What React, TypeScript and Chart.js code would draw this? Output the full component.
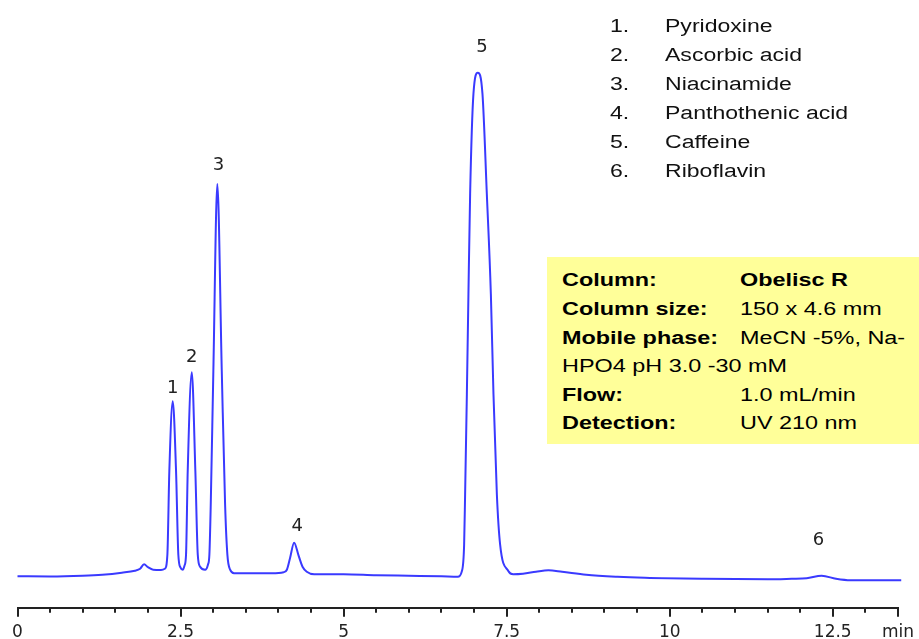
import React, { useEffect, useRef } from "react";
import { Chart, registerables } from "chart.js";

Chart.register(...registerables);

// Retention time (min) and detector signal (arbitrary units)
const retentionTimes = [
  0.0, 0.5, 1.0, 1.3, 1.6, 1.8, 1.88, 1.94, 2.0, 2.08, 2.2, 2.26,
  2.298, 2.328, 2.38, 2.431, 2.466, 2.5, 2.534, 2.56,
  2.584, 2.61, 2.672, 2.727, 2.764, 2.8, 2.876, 2.92,
  2.942, 2.963, 3.003, 3.064, 3.132, 3.183, 3.218, 3.26, 3.32,
  3.6, 3.9, 4.08, 4.13, 4.18, 4.241, 4.31, 4.37, 4.435, 4.55,
  5.0, 5.5, 6.0, 6.5, 6.75,
  6.813, 6.848, 6.863, 6.89, 6.914, 6.94, 6.991, 7.058, 7.129, 7.196, 7.258, 7.298, 7.35, 7.4, 7.528,
  7.6, 7.75, 7.95, 8.14, 8.35, 8.72, 9.2, 9.62, 10.52, 11.5, 11.87, 12.1, 12.33, 12.55, 12.77, 13.2, 13.55,
];
const signal = [
  31.5, 31.3, 32.0, 33.0, 35.0, 37.0, 39.0, 43.5, 40.5, 38.0, 37.8, 39.0,
  53, 136.5, 206, 136.5, 53, 40, 38, 42,
  53, 136.5, 235, 136.5, 53, 41, 38, 43,
  53, 103, 236.5, 423, 236.5, 103, 53, 38, 34.5,
  34.5, 34.5, 35.5, 38, 50, 65, 52, 41, 36, 33.5,
  33.5, 32.5, 32, 31.5, 31,
  36.5, 63, 113, 213, 313, 413, 513, 534, 513, 413, 313, 213, 113, 63, 36.5,
  33.5, 34, 36, 37.5, 36, 33, 31, 30, 29, 28.5, 29, 29.5, 32, 29, 27.5, 27.5, 27.5,
];

// Peak numbers and where they are printed
const peakLabels = ["1", "2", "3", "4", "5", "6"];
const peakLabelTimes = [2.38, 2.672, 3.08, 4.29, 7.12, 12.28];
const peakLabelSignals = [220.5, 251.5, 443, 83, 561.5, 69];

// Compound list
const compoundNumbers = ["1.", "2.", "3.", "4.", "5.", "6."];
const compounds = ["Pyridoxine", "Ascorbic acid", "Niacinamide", "Panthothenic acid", "Caffeine", "Riboflavin"];

// Conditions box
const conditionKeys = ["Column:", "Column size:", "Mobile phase:", "", "Flow:", "Detection:"];
const conditionValues = ["Obelisc R", "150 x 4.6 mm", "MeCN -5%, Na-", "HPO4 pH 3.0 -30 mM", "1.0 mL/min", "UV 210 nm"];

// Axis
const majorTickValues = [0, 2.5, 5, 7.5, 10, 12.5];
const axisUnit = "min";
const xMin = 0;
const xMax = 13.5;

const TEXT_FONT = '"Liberation Sans", Arial, sans-serif';
const CANVAS_W = 924;

export default function App() {
  const canvasRef = useRef<HTMLCanvasElement | null>(null);

  useEffect(() => {
    const canvas = canvasRef.current;
    if (!canvas) return;

    const peakLabelPlugin = {
      id: "peakLabels",
      afterDatasetsDraw(chart: any) {
        const { ctx, scales } = chart;
        ctx.save();
        ctx.font = '18px "DejaVu Sans", sans-serif';
        ctx.fillStyle = "#222";
        ctx.textAlign = "center";
        ctx.textBaseline = "alphabetic";
        peakLabels.forEach((lab, i) => {
          const x = scales.x.getPixelForValue(peakLabelTimes[i]);
          const y = scales.y.getPixelForValue(peakLabelSignals[i]);
          ctx.fillText(lab, x, y + 6.5);
        });
        ctx.restore();
      },
    };

    const majorTickPlugin = {
      id: "majorTicks",
      afterDraw(chart: any) {
        const { ctx, scales, chartArea } = chart;
        ctx.save();
        ctx.strokeStyle = "#222";
        ctx.lineWidth = 2;
        const extra = [...majorTickValues, xMax];
        extra.forEach((v) => {
          const x = Math.round(scales.x.getPixelForValue(v));
          ctx.beginPath();
          ctx.moveTo(x, chartArea.bottom);
          ctx.lineTo(x, chartArea.bottom + 9);
          ctx.stroke();
        });
        ctx.restore();
      },
    };

    const chart = new Chart(canvas, {
      type: "line",
      data: {
        datasets: [
          {
            data: retentionTimes.map((t, i) => ({ x: t, y: signal[i] })),
            borderColor: "#3a3aff",
            borderWidth: 2,
            pointRadius: 0,
            fill: false,
            cubicInterpolationMode: "monotone",
            clip: false as any,
          },
        ],
      },
      options: {
        animation: false,
        responsive: false,
        maintainAspectRatio: false,
        layout: { padding: { left: 17.5, right: 8.3, top: 6.5, bottom: -12.5 } },
        plugins: { legend: { display: false }, tooltip: { enabled: false } },
        scales: {
          x: {
            type: "linear",
            min: xMin,
            max: xMax,
            ticks: {
              stepSize: 0.5,
              autoSkip: false,
              maxRotation: 0,
              padding: 10,
              color: "#222",
              font: { family: '"DejaVu Sans", sans-serif', size: 17, lineHeight: 1.1 },
              callback: (value: any) => {
                const v = Number(value);
                if (majorTickValues.includes(v)) return String(v);
                if (v === xMax) return axisUnit;
                return "";
              },
            },
            grid: {
              drawOnChartArea: false,
              drawTicks: true,
              tickLength: 5,
              color: "#222",
              lineWidth: 2,
            },
            border: { display: true, color: "#222", width: 2 },
          },
          y: { display: false, min: 0, max: 600 },
        },
      },
      plugins: [peakLabelPlugin, majorTickPlugin],
    } as any);

    return () => chart.destroy();
  }, []);

  const legendText = (text: string, left: number, baseline: number, extra: any = {}) => (
    <div
      key={`${text}-${left}-${baseline}`}
      style={{
        position: "absolute",
        left,
        top: baseline - 15.2,
        font: `18px ${TEXT_FONT}`,
        lineHeight: "18px",
        whiteSpace: "nowrap",
        transform: "scaleX(1.28)",
        transformOrigin: "0 0",
        color: "#111",
        ...extra,
      }}
    >
      {text}
    </div>
  );

  return (
    <div style={{ position: "absolute", left: 0, top: 0, width: 919, height: 639, background: "#fff", overflow: "hidden" }}>
      <canvas
        ref={canvasRef}
        width={CANVAS_W}
        height={639}
        style={{ position: "absolute", left: 0, top: 0, width: CANVAS_W, height: 639 }}
      />
      {compounds.map((c, i) => (
        <React.Fragment key={c}>
          {legendText(compoundNumbers[i], 610, 32.3 + 29 * i)}
          {legendText(c, 665, 32.3 + 29 * i)}
        </React.Fragment>
      ))}
      <div style={{ position: "absolute", left: 547, top: 257, width: 372, height: 187, background: "#ffff99" }} />
      {conditionValues.map((v, i) => {
        const baseline = 286.6 + 28.55 * i;
        const key = conditionKeys[i];
        return (
          <React.Fragment key={v}>
            {key
              ? legendText(key, 561.7, baseline, { fontWeight: "bold", transform: "scaleX(1.3)", color: "#000" })
              : null}
            {legendText(v, key ? 740 : 561.7, baseline, {
              fontWeight: i === 0 ? "bold" : "normal",
              transform: "scaleX(1.3)",
              color: "#000",
            })}
          </React.Fragment>
        );
      })}
    </div>
  );
}
